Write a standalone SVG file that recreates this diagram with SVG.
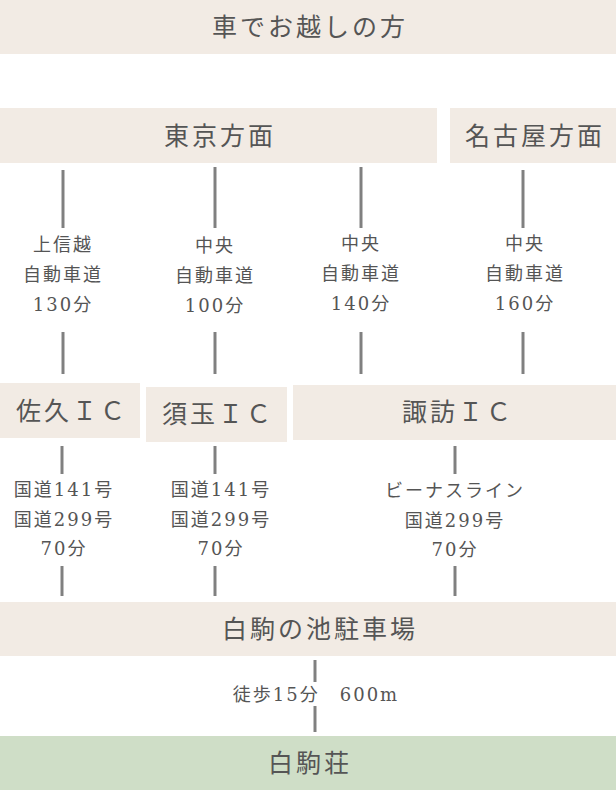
<svg xmlns="http://www.w3.org/2000/svg" width="616" height="790" viewBox="0 0 616 790">
<style>
.box{fill:#f2ebe4}
.goal{fill:#cfdec7}
.h{font-family:"Liberation Serif","Noto Sans CJK JP",serif;font-size:25px;fill:#555;text-anchor:middle;dominant-baseline:central;letter-spacing:3px}
.t{font-family:"DejaVu Serif","Noto Sans CJK JP",serif;font-size:18px;fill:#555;text-anchor:middle;dominant-baseline:central;letter-spacing:2px}
.c line{stroke:#808080;stroke-width:3}
</style>
<rect width="616" height="790" fill="#fff"/>
<g id="title"><rect class="box" x="0" y="0" width="616" height="54"/><text class="h" x="310" y="27">車でお越しの方</text></g>
<g id="tokyo"><rect class="box" x="0" y="108" width="437" height="55"/><text class="h" x="220" y="136">東京方面</text></g>
<g id="nagoya"><rect class="box" x="450" y="108" width="166" height="55"/><text class="h" x="535" y="136">名古屋方面</text></g>
<g id="saku"><rect class="box" x="0" y="383" width="140" height="55"/><text class="h" x="72" y="411">佐久ＩＣ</text></g>
<g id="sudama"><rect class="box" x="146" y="387" width="141" height="55"/><text class="h" x="218" y="414">須玉ＩＣ</text></g>
<g id="suwa"><rect class="box" x="293" y="385" width="323" height="55"/><text class="h" x="458" y="412">諏訪ＩＣ</text></g>
<g id="parking"><rect class="box" x="0" y="602" width="616" height="54"/><text class="h" x="320" y="629">白駒の池駐車場</text></g>
<g id="shirakomaso"><rect class="goal" x="0" y="736" width="616" height="54"/><text class="h" x="310" y="763">白駒荘</text></g>
<g class="c" id="connectors">
<line x1="63" y1="170" x2="63" y2="228"/>
<line x1="215" y1="167" x2="215" y2="228"/>
<line x1="361" y1="167" x2="361" y2="228"/>
<line x1="523" y1="170" x2="523" y2="228"/>
<line x1="63" y1="332" x2="63" y2="374"/>
<line x1="215" y1="332" x2="215" y2="374"/>
<line x1="361" y1="332" x2="361" y2="374"/>
<line x1="523" y1="332" x2="523" y2="374"/>
<line x1="62" y1="446" x2="62" y2="474"/>
<line x1="215" y1="446" x2="215" y2="474"/>
<line x1="455" y1="446" x2="455" y2="474"/>
<line x1="62" y1="566" x2="62" y2="596"/>
<line x1="215" y1="566" x2="215" y2="596"/>
<line x1="455" y1="566" x2="455" y2="596"/>
<line x1="315" y1="660" x2="315" y2="682"/>
<line x1="315" y1="706" x2="315" y2="732"/>
</g>
<g id="labels">
<text class="t" x="63" y="244">上信越</text>
<text class="t" x="63" y="274">自動車道</text>
<text class="t" x="63" y="304">130分</text>
<text class="t" x="215" y="245">中央</text>
<text class="t" x="215" y="275">自動車道</text>
<text class="t" x="215" y="305">100分</text>
<text class="t" x="361" y="243">中央</text>
<text class="t" x="361" y="273">自動車道</text>
<text class="t" x="361" y="303">140分</text>
<text class="t" x="525" y="243">中央</text>
<text class="t" x="525" y="273">自動車道</text>
<text class="t" x="525" y="303">160分</text>
<text class="t" x="64" y="489">国道141号</text>
<text class="t" x="64" y="519">国道299号</text>
<text class="t" x="64" y="548">70分</text>
<text class="t" x="221" y="489">国道141号</text>
<text class="t" x="221" y="519">国道299号</text>
<text class="t" x="221" y="548">70分</text>
<text class="t" x="455" y="490">ビーナスライン</text>
<text class="t" x="455" y="520">国道299号</text>
<text class="t" x="455" y="549">70分</text>
<text class="t" x="316" y="694" xml:space="preserve">徒歩15分　600m</text>
</g>
</svg>
